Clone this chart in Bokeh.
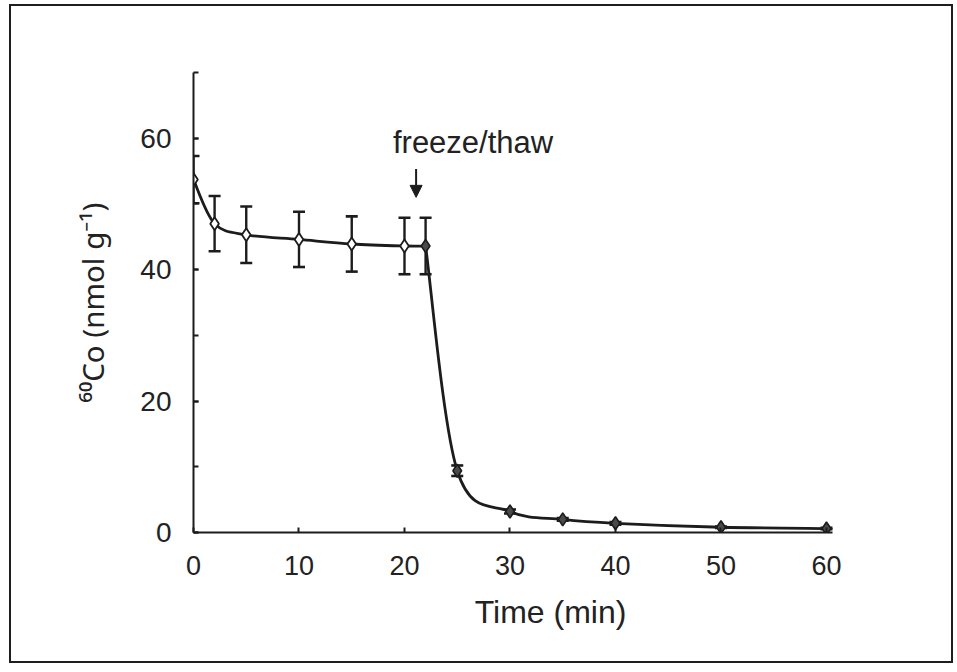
import numpy as np
from bokeh.plotting import figure
from bokeh.models import (Range1d, SingleIntervalTicker, ColumnDataSource, Whisker,
                          TeeHead, Arrow, NormalHead, Label)
from bokeh.embed import file_html
from bokeh.resources import INLINE

# ---- data ----
time_pre = [0, 2, 5, 10, 15, 20]
co_pre = [53.7, 47.0, 45.3, 44.6, 43.9, 43.6]
err_pre = [3.6, 4.2, 4.3, 4.2, 4.2, 4.3]

time_post = [22, 25, 30, 35, 40, 50, 60]
co_post = [43.6, 9.4, 3.2, 2.0, 1.4, 0.8, 0.6]
err_post = [4.3, 0.8, 0.3, 0.2, 0.2, 0.1, 0.1]

x_ticks_interval = 10
y_ticks_interval = 20
annotation_text = "freeze/thaw"
annotation_time = 21.1

FONT = "Liberation Sans"
INK = "#1c1c1c"

p = figure(width=940, height=655, output_backend="svg", toolbar_location=None,
           x_range=Range1d(0, 67.68), y_range=Range1d(0, 70),
           min_border_left=182, min_border_right=44, min_border_top=66, min_border_bottom=129,
           frame_width=714, frame_height=460)
p.styles = {"margin-left": "9px", "margin-top": "4px", "border": "2px solid #1e1e1e"}
p.outline_line_color = None
p.xgrid.grid_line_color = None
p.ygrid.grid_line_color = None
p.background_fill_color = "white"
p.border_fill_color = "white"

# axes
p.xaxis.ticker = SingleIntervalTicker(interval=x_ticks_interval, num_minor_ticks=0)
p.yaxis.ticker = SingleIntervalTicker(interval=y_ticks_interval, num_minor_ticks=2)
p.xaxis.bounds = (0, 60.6)
p.yaxis.bounds = (0, 70)
for ax in (p.xaxis[0], p.yaxis[0]):
    ax.axis_line_color = INK
    ax.axis_line_width = 2
    ax.major_tick_line_color = INK
    ax.major_tick_line_width = 2
    ax.minor_tick_line_color = INK
    ax.minor_tick_line_width = 2
    ax.major_tick_in = 5
    ax.major_tick_out = 0
    ax.minor_tick_in = 5
    ax.minor_tick_out = 0
    ax.major_label_text_font = FONT
    ax.major_label_text_font_size = "27px"
    ax.major_label_text_color = "#222222"
    ax.axis_label_text_font = FONT
    ax.axis_label_text_font_size = "32px"
    ax.axis_label_text_font_style = "normal"
    ax.axis_label_text_color = "#222222"
p.yaxis.major_label_text_font_size = "28px"
p.xaxis.major_label_standoff = 23
p.yaxis.major_label_standoff = 22
p.xaxis.axis_label = "Time (min)"
p.yaxis.axis_label = "\u2076\u2070Co (nmol g\u207b\u00b9)"
p.yaxis.axis_label_text_font = "Noto Sans"
p.yaxis.axis_label_text_font_size = "29.5px"
p.xaxis.axis_label_standoff = 16
p.yaxis.axis_label_standoff = 24


# ---- smooth curve (cubic Bezier through the measured points) ----
def bezier_pieces(xs, ys):
    xs = np.asarray(xs, float)
    ys = np.asarray(ys, float)
    n = len(xs)
    out = {k: [] for k in ("x0", "y0", "x1", "y1", "cx0", "cy0", "cx1", "cy1")}
    for i in range(n - 1):
        i0 = max(i - 1, 0)
        i3 = min(i + 2, n - 1)
        out["x0"].append(xs[i]); out["y0"].append(ys[i])
        out["x1"].append(xs[i + 1]); out["y1"].append(ys[i + 1])
        out["cx0"].append(xs[i] + (xs[i + 1] - xs[i0]) / 6)
        out["cy0"].append(ys[i] + (ys[i + 1] - ys[i0]) / 6)
        out["cx1"].append(xs[i + 1] - (xs[i3] - xs[i]) / 6)
        out["cy1"].append(ys[i + 1] - (ys[i3] - ys[i]) / 6)
    return out

seg_a = bezier_pieces(time_pre + time_post[:1], co_pre + co_post[:1])
seg_b = bezier_pieces(time_post, co_post)
for seg in (seg_a, seg_b):
    p.bezier(x0="x0", y0="y0", x1="x1", y1="y1", cx0="cx0", cy0="cy0", cx1="cx1", cy1="cy1",
             source=ColumnDataSource(seg), line_color=INK, line_width=2.8)

# ---- error bars ----
src_pre = ColumnDataSource(dict(t=time_pre, v=co_pre,
                                lo=[v - e for v, e in zip(co_pre, err_pre)],
                                hi=[v + e for v, e in zip(co_pre, err_pre)]))
src_post = ColumnDataSource(dict(t=time_post, v=co_post,
                                 lo=[v - e for v, e in zip(co_post, err_post)],
                                 hi=[v + e for v, e in zip(co_post, err_post)]))
for src in (src_pre, src_post):
    w = Whisker(base="t", lower="lo", upper="hi", source=src, dimension="height",
                line_color=INK, line_width=2.4,
                upper_head=TeeHead(size=12, line_color=INK, line_width=2.6),
                lower_head=TeeHead(size=12, line_color=INK, line_width=2.6))
    p.add_layout(w)

# ---- markers ----
p.scatter("t", "v", source=src_pre, marker="diamond", size=13,
          fill_color="white", line_color=INK, line_width=1.8)
p.scatter("t", "v", source=src_post, marker="diamond", size=13,
          fill_color="#4a4a4a", line_color=INK, line_width=1.6)

# ---- annotation ----
p.add_layout(Label(x=26.5, y=59.4, text=annotation_text, text_align="center",
                   text_baseline="alphabetic", text_font=FONT, text_font_size="31px",
                   text_color="#222222"))
p.add_layout(Arrow(x_start=annotation_time, y_start=55.3, x_end=annotation_time, y_end=51.0,
                   line_color=INK, line_width=2,
                   end=NormalHead(size=12, fill_color=INK, line_color=INK)))

open("out.html", "w").write(file_html(p, INLINE))
